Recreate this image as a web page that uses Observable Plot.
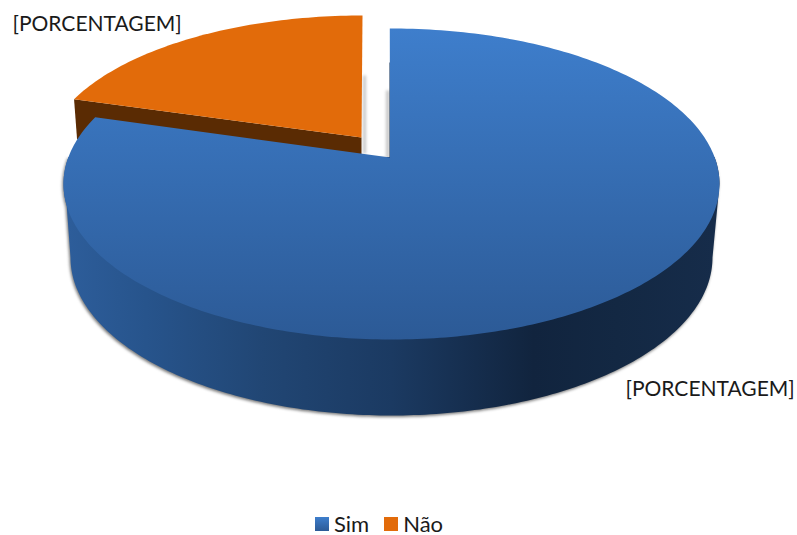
<!DOCTYPE html>
<html><head><meta charset="utf-8">
<style>
html,body{margin:0;padding:0;background:#fff;overflow:hidden}
svg{display:block}
.soft{filter:blur(1.6px)}
.legend{height:30px;display:flex;align-items:center;padding:7px 0 0 315px;font:22px/22px Lato,sans-serif;color:#1a1a1a;box-sizing:border-box}
.legend i{display:inline-block;width:14px;height:14px;margin-right:5px}
.legend span{margin-right:15px}
</style>
<script src="https://cdn.jsdelivr.net/npm/d3@7"></script>
<script src="https://cdn.jsdelivr.net/npm/@observablehq/plot@0.6"></script>
</head><body>
<div id="chart"></div>
<script>
const categories = ["Sim", "Não"];
const shares = [82, 18];
const labels = ["[PORCENTAGEM]", "[PORCENTAGEM]"];
const W = 797, H = 505;
const rad = Math.PI / 180;
const total = d3.sum(shares);
const sweep = shares.map(v => v / total * 360);

// Projected ellipses of the tilted 3D pie
const blueTop = {cx: 391, cy: 183.5, rx: 328, ry: 155.5, apex: [389.5, 157]};
const blueBase = {cx: 391, cy: 257, rx: 321, ry: 158};
const orangeTop = {cx: 362, cy: 159.6, rx: 318, ry: 144.6, apex: [361, 137]};
const depth = 40;

function pt(e, deg) {
  return [e.cx + e.rx * Math.sin(deg * rad), e.cy - e.ry * Math.cos(deg * rad)];
}
function arc(e, a0, a1, id) {
  const n = Math.ceil(Math.abs(a1 - a0));
  return d3.range(n + 1).map(i => {
    const [x, y] = pt(e, a0 + (a1 - a0) * i / n);
    return {x, y, id};
  });
}
const p = (x, y, id) => ({x, y, id});

const start = -0.3;
const split = start + sweep[0];

const blueTopPts = [...arc(blueTop, start, split + 0.5, "top"), p(...blueTop.apex, "top")];
const orangeTopPts = [...arc(orangeTop, split, 360, "o"), p(...orangeTop.apex, "o")];
const orangeEnd = pt(orangeTop, split);
const orangeCut = [
  p(orangeEnd[0], orangeEnd[1], "c"), p(...orangeTop.apex, "c"),
  p(orangeTop.apex[0], orangeTop.apex[1] + depth, "c"),
  p(orangeEnd[0] + 3, orangeEnd[1] + depth, "c")
];
const sidePts = [
  ...arc(blueTop, 80, 90, "s"),
  ...arc(blueBase, 90, 270, "s"),
  ...arc(blueTop, 262, 280, "s")
];
const blueInner = [p(389, 62, "e"), p(390.6, 62, "e"), p(390.6, 157, "e"), p(389, 157, "e")];
const gapShadowA = [p(362.5, 75, "a"), p(365.5, 75, "a"), p(365.5, 153, "a"), p(362.5, 153, "a")];
const gapShadowB = [p(385.5, 90, "b"), p(389, 90, "b"), p(389, 157, "b"), p(385.5, 157, "b")];

const shape = (data, o) => Plot.line(data, {x: "x", y: "y", z: "id", curve: "linear", stroke: "none", ...o});

const labelRows = [
  {text: labels[0], x: 625, y: 389},
  {text: labels[1], x: 12, y: 24}
];

const plot = Plot.plot({
  width: W, height: H, margin: 0,
  x: {domain: [0, W], range: [0, W], axis: null},
  y: {domain: [0, H], range: [0, H], axis: null},
  style: {background: "#fff"},
  marks: [
    shape(gapShadowA, {fill: "#c4c4c4", className: "soft"}),
    shape(gapShadowB, {fill: "#c4c4c4", className: "soft"}),
    shape(orangeCut, {fill: "#5a2b03"}),
    shape(orangeTopPts, {fill: "#e26b0a"}),
    shape(sidePts, {fill: "#777", dy: 1.5, dx: -1, className: "soft"}),
    shape(sidePts, {fill: "url(#sideGrad)"}),
    shape(blueInner, {fill: "#132a48"}),
    shape(blueTopPts, {fill: "url(#topGrad)"}),
    Plot.text(labelRows, {x: "x", y: "y", text: "text", textAnchor: "start", fontSize: 21, fontFamily: "Lato", fill: "#1a1a1a"})
  ]
});

const defs = d3.select(plot).insert("defs", ":first-child");
const grad = (id, x1, y1, x2, y2, stops) => {
  const g = defs.append("linearGradient").attr("id", id).attr("gradientUnits", "userSpaceOnUse")
    .attr("x1", x1).attr("y1", y1).attr("x2", x2).attr("y2", y2);
  stops.forEach(([o, c]) => g.append("stop").attr("offset", o).attr("stop-color", c));
};
grad("topGrad", 0, 28, 0, 339, [[0, "#3e7ecc"], [1, "#2c5a96"]]);
grad("sideGrad", 68, 0, 714, 0, [[0, "#2d5d9a"], [0.12, "#27548c"], [0.3, "#214674"], [0.5, "#1b3a62"], [0.72, "#11243e"], [0.85, "#132843"], [1, "#162c4a"]]);

document.getElementById("chart").append(plot);

const lg = d3.select("body").append("div").attr("class", "legend");
const swatches = ["linear-gradient(#3e7ecc,#2c5a96)", "#e26b0a"];
categories.forEach((c, i) => {
  lg.append("i").style("background", swatches[i]);
  lg.append("span").text(c);
});
</script>
</body></html>
